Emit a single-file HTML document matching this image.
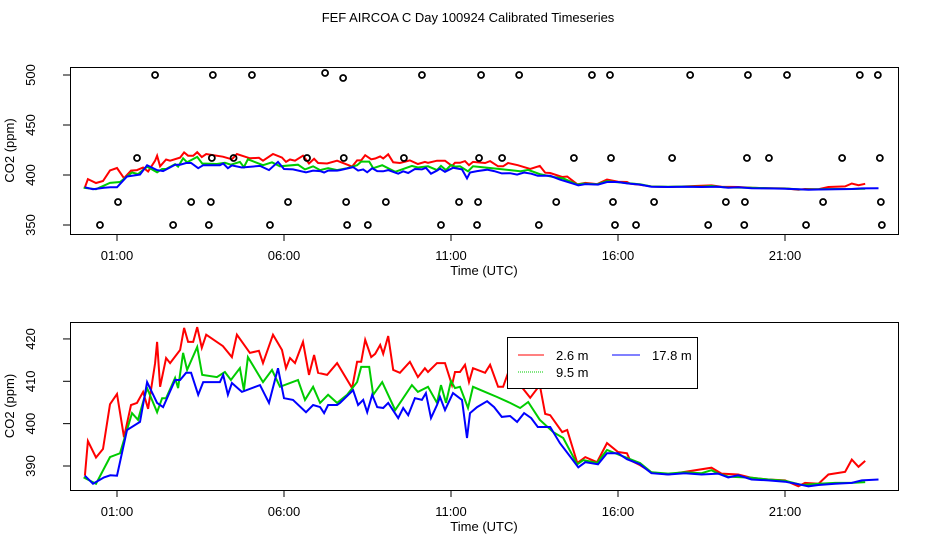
<!DOCTYPE html>
<html><head><meta charset="utf-8"><style>
body{margin:0;background:#fff;}
svg{display:block;font-family:"Liberation Sans",sans-serif;}
</style></head><body>
<svg id="chart" width="936" height="540" xmlns="http://www.w3.org/2000/svg">
<rect width="936" height="540" fill="#fff"/>
<text x="468" y="22" font-size="13" text-anchor="middle">FEF AIRCOA C  Day 100924  Calibrated Timeseries</text>
<g id="top"></g>
<g id="bot"></g>
</svg>
<script>
const xTickHours=[1,6,11,16,21];
const xTickLabels=["01:00","06:00","11:00","16:00","21:00"];
const topYTicks=[350,400,450,500];
const botYTicks=[390,400,410,420];
const redT=[0.04,0.13,0.37,0.58,0.79,1.0,1.21,1.42,1.6,1.78,1.93,2.14,2.2,2.29,2.47,2.59,2.89,3.01,3.13,3.28,3.4,3.54,3.67,4.17,4.44,4.59,4.98,5.25,5.37,5.67,5.94,6.06,6.18,6.33,6.57,6.75,6.9,7.02,7.29,7.59,8.04,8.19,8.31,8.43,8.61,8.73,8.88,8.97,9.12,9.27,9.47,9.77,10.01,10.22,10.31,10.58,10.82,11.03,11.12,11.27,11.42,11.54,11.66,12.02,12.17,12.41,12.56,12.71,13.0,13.37,13.66,13.82,13.97,14.33,14.48,14.78,15.02,15.37,15.67,16.0,16.27,16.36,16.66,17,17.5,18,18.8,19.1,19.6,20,20.5,21,21.4,21.6,22,22.3,22.8,23,23.2,23.4];
const redV=[387.7,395.9,392,394,404.6,407,396.8,404.4,404.9,407.5,403.5,414.3,419.3,408.7,415.5,414.3,417.4,422.6,419.3,419.3,422.8,417.9,421,418.3,415.7,421,416.7,417.2,414.3,421,417.4,413.1,415.5,414.3,419.3,411.5,416.2,412,411.5,414.3,408.4,414.6,414.6,419.8,415.7,416.5,418.6,416.5,420.7,412.7,412,414.6,411,413.1,412.2,414.3,414.3,409.1,412.2,412.2,413.9,409.8,413.1,412,413.9,408.7,408.7,412,409.8,406.1,409.1,402.3,402,398,398.5,390.7,392.1,390.9,395.4,393.3,393,391.4,390.2,388.5,388,388.6,389.6,388.2,388,387.2,386.8,386.6,385.2,386,385.8,388,388.6,391.5,389.8,391.2];
const greenT=[0.0,0.37,0.79,1.09,1.45,1.63,1.9,2.2,2.35,2.47,2.74,2.83,2.98,3.1,3.4,3.55,3.99,4.23,4.41,4.68,4.8,4.92,5.37,5.64,5.88,6.42,6.63,6.87,7.08,7.32,7.59,7.89,8.19,8.31,8.55,8.67,8.94,9.33,9.83,10.01,10.31,10.58,10.7,10.85,11.0,11.12,11.27,11.51,11.66,12.02,12.38,12.77,13.07,13.31,13.66,14.06,14.36,14.78,14.96,15.37,15.67,16.27,16.66,17,17.5,18,18.5,18.8,19,19.3,20,20.5,21,21.5,22,22.5,23,23.4];
const greenV=[387.3,385.8,392.1,393,402.5,400.9,408.4,402.7,406,406,410.8,408.4,416.7,412.7,418.1,411.5,411,412.2,410.3,413.1,407.9,415.7,409.8,412.7,408.7,410.3,405.6,408.7,404.9,406.8,404.9,406.8,409.8,413.4,413.4,406.8,409.8,403.2,409.1,407.5,408.7,404.9,409.1,404.9,410.1,408.4,408.7,403.7,408.7,407.5,406.3,404.9,403.7,405.1,400.9,398,396.6,390.4,391.4,390.7,393.8,391.9,390.7,388.5,388.2,388.5,388.3,389,388.2,387.5,387.2,386.8,386.5,385.5,385.8,386,386,386.2];
const blueT=[0.04,0.28,0.61,0.8,1.0,1.3,1.69,1.9,2.2,2.38,2.74,2.89,3.07,3.22,3.43,3.58,4.08,4.18,4.32,4.44,4.74,5.28,5.55,5.82,6.0,6.27,6.66,6.87,7.08,7.2,7.32,7.59,7.68,8.07,8.22,8.37,8.49,8.64,8.79,8.97,9.12,9.42,9.57,9.72,9.92,10.13,10.25,10.4,10.58,10.67,10.82,11.06,11.33,11.48,11.57,11.78,12.08,12.29,12.52,12.77,12.98,13.19,13.4,13.6,13.97,14.26,14.65,14.81,15.02,15.4,15.67,16.0,16.27,16.66,17,17.5,18,18.5,19,19.3,19.6,20,20.5,21,21.4,21.7,22,22.5,23,23.3,23.8];
const blueV=[387.7,385.8,387.3,387.8,387.7,398.5,400.4,409.8,404.9,403.9,410.3,410.3,412,412,406.8,409.8,409.8,411.5,406.8,409.6,407.5,409.1,404.9,413.1,406,405.6,402.7,404.4,403.9,402.5,404.4,404.4,404.9,407.9,404.4,405.6,402.7,406.8,403.9,403.7,404.9,401.3,403.7,402,406,405.6,407.2,401.3,404.4,406.3,403.2,407.2,405.6,396.6,402.5,403.9,405.3,403.9,401.6,401.8,400.4,402.5,401.3,399.2,399.2,395.4,391.4,389.7,390.9,390.4,393,393,391.6,390.4,388.3,388,388.3,388,388.2,387.3,387.8,386.8,386.6,386.3,385.7,385.2,385.5,385.8,386,386.6,386.8];
const flag500T=[2.14,3.87,5.04,7.23,7.77,10.13,11.9,13.04,15.22,15.76,18.16,19.89,21.06,23.24,23.78];
const flag500V=[500,500,500,502,497,500,500,500,500,500,500,500,500,500,500];
const flag417T=[1.6,3.84,4.49,6.69,7.79,9.59,11.84,12.53,14.68,15.79,17.62,19.86,20.52,22.71,23.84];
const flag373T=[1.03,3.22,3.81,6.12,7.86,9.05,11.24,11.81,14.15,15.85,17.08,19.23,19.8,22.14,23.87];
const flag350T=[0.49,2.68,3.75,5.58,7.89,8.51,10.7,11.78,13.63,15.91,16.54,18.7,19.78,21.63,23.9];

const NS="http://www.w3.org/2000/svg";
function mk(parent,tag,attrs){const e=document.createElementNS(NS,tag);for(const k in attrs)e.setAttribute(k,attrs[k]);parent.appendChild(e);return e;}
const X0=70,X1=898;
function xs(t){return 83.6+t*33.4;}

function panel(g,top,bottom,vmin,vmax,yTicks,name){
  const ys=v=>bottom-(v-vmin)/(vmax-vmin)*(bottom-top);
  const frame=mk(g,'rect',{x:X0+0.5,y:top+0.5,width:X1-X0,height:bottom-top,fill:'none',stroke:'#000'});
  
  
  yTicks.forEach(v=>{
    const y=ys(v);
    const l=mk(g,'line',{x1:X0-7,x2:X0,y1:y,y2:y,stroke:'#000'});
    
    
    const t=mk(g,'text',{x:35,y:y,'font-size':13,'text-anchor':'middle',transform:`rotate(-90 35 ${y})`});
    t.textContent=v;
    
    
  });
  xTickHours.forEach((h,i)=>{
    const x=xs(h);
    const l=mk(g,'line',{x1:x,x2:x,y1:bottom+0.5,y2:bottom+7,stroke:'#000'});
    
    
    const t=mk(g,'text',{x:x,y:bottom+26,'font-size':13,'text-anchor':'middle'});
    t.textContent=xTickLabels[i];
    
    
  });
  const xt=mk(g,'text',{x:484,y:bottom+41,'font-size':13,'text-anchor':'middle'});
  xt.textContent='Time (UTC)';
  
  
  const cy=(top+bottom)/2;
  const yt=mk(g,'text',{x:14,y:cy,'font-size':13,'text-anchor':'middle',transform:`rotate(-90 14 ${cy})`});
  yt.textContent='CO2 (ppm)';
  
  
  const series=[[redT,redV,'#f00','red'],[greenT,greenV,'#0c0','green'],[blueT,blueV,'#00f','blue']];
  series.forEach(([T,V,c,n])=>{
    const p=mk(g,'polyline',{points:T.map((t,i)=>xs(t).toFixed(1)+','+ys(V[i]).toFixed(1)).join(' '),fill:'none',stroke:c,'stroke-width':2,'stroke-linejoin':'miter'});
    
    
  });
  return ys;
}

const ysTop=panel(document.getElementById('top'),67,234,341,508,topYTicks,'top');
const gt=document.getElementById('top');
function circles(T,V){
  T.forEach((t,i)=>{
    const c=mk(gt,'circle',{cx:xs(t),cy:ysTop(V[i]),r:3,fill:'none',stroke:'#000','stroke-width':1.8});
    
    
  });
}
circles(flag500T,flag500V);
circles(flag417T,flag417T.map(()=>417));
circles(flag373T,flag373T.map(()=>373));
circles(flag350T,flag350T.map(()=>350));

panel(document.getElementById('bot'),322,490,384.33,424.0,botYTicks,'bottom');
</script>
<svg style="position:absolute;left:0;top:0" width="936" height="540">
<g font-family="Liberation Sans, sans-serif" font-size="13">
<rect x="507.5" y="337.5" width="190" height="51" fill="#fff" stroke="#000"/>
<line x1="518" x2="544" y1="355" y2="355" stroke="#f00"/>
<text x="556" y="360">2.6 m</text>
<line x1="612" x2="640" y1="355" y2="355" stroke="#00f"/>
<text x="652" y="360">17.8 m</text>
<line x1="518" x2="544" y1="372" y2="372" stroke="#0c0" stroke-dasharray="1,1"/>
<text x="556" y="377">9.5 m</text>
</g>
</svg>
</body></html>
